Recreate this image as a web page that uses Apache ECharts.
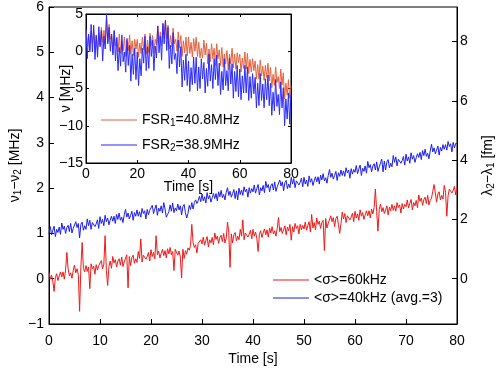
<!DOCTYPE html>
<html>
<head>
<meta charset="utf-8">
<script src="https://cdn.jsdelivr.net/npm/echarts@6/dist/echarts.min.js"></script>
<style>
html, body { margin: 0; padding: 0; background: #fff; }
#chart { width: 500px; height: 370px; }
</style>
</head>
<body>
<div id="chart"></div>
<script>
// main traces sampled every 0.25 s, inset traces every 0.5 s (0..80 s)
var mainStep = 0.25
var insetStep = 0.5
var rightTicks = [0, 2, 4, 6, 8]
var fmPerMHz = 1.528

// nu1 - nu2 [MHz], <sigma>=60kHz  (two rows = 10 s)
var redMain = [
  0.14, -0.01, 0.08, -0.06, -0.28, 0.03, 0.11, -0.04, 0.06, 0.15, 0.04, 0.15, -0.01, 0.19, 0.58, 0.22, 0.06, 0.13, 0.01, 0.18,
  0.30, 0.13, 0.22, 0.09, -0.72, 0.26, 0.8, 0.23, 0.15, 0.29, 0.16, 0.26, -0.22, 0.33, 0.22, 0.28, 0.10, 0.31, 0.19, 0.29,
  0.25, 0.40, 0.22, 0.32, 0.95, 0.18, -0.15, 0.27, 0.39, 0.23, 0.49, 0.35, 0.42, 0.26, 0.39, 0.44, 0.30, 0.48, 0.27, 0.37,
  0.38, 0.53, -0.2, 0.49, 0.29, 0.47, 0.52, 0.34, 0.44, 0.36, 0.60, 0.45, 0.88, 0.37, 0.52, 0.55, 0.43, 0.49, 0.58, 0.39,
  0.64, 0.49, 0.58, 0.44, 0.95, 0.53, 0.61, 0.46, 0.56, 0.65, 0.51, 0.62, 0.46, 0.66, 0.55, 0.69, 0.53, 0.60, 0.18, 0.65,
  0.69, 0.52, 0.61, 0.48, 0.02, 0.65, 0.45, 0.62, 0.54, 0.68, 0.63, 0.73, 1.2, 0.80, 0.69, 0.75, 0.57, 0.78, 0.76, 0.86,
  0.77, 0.92, 0.74, 0.84, 0.93, 0.70, 0.86, 0.79, 0.91, 0.75, 1.01, 0.87, 0.94, 0.78, 0.91, 0.96, 0.82, 1.00, 0.79, 0.89,
  1.25, 1.03, 0.25, 0.99, 0.79, 0.97, 1.02, 0.84, 0.94, 0.86, 1.09, 0.94, 1.3, 0.86, 1.01, 1.04, 0.92, 0.98, 1.07, 0.88,
  1.09, 0.94, 1.03, 0.89, 0.6, 0.98, 1.06, 0.91, 1.01, 1.10, 0.97, 1.08, 0.92, 1.12, 1.01, 1.15, 0.99, 1.06, 0.94, 1.11,
  1.35, 1.04, 1.13, 1.00, 1.08, 1.17, 0.97, 1.14, 1.06, 1.20, 0.85, 1.15, 1.03, 1.22, 1.11, 1.17, 0.99, 1.20, 1.08, 1.18,
  1.10, 1.25, 1.07, 1.17, 1.26, 1.03, 1.42, 1.12, 1.24, 1.08, 1.34, 1.20, 1.27, 1.11, 1.24, 1.29, 0.62, 1.33, 1.12, 1.22,
  1.24, 1.39, 1.26, 1.35, 1.15, 1.33, 1.38, 1.20, 1.0, 1.22, 1.47, 1.32, 1.44, 1.24, 1.39, 1.42, 1.30, 1.36, 1.45, 1.26,
  1.49, 1.34, 1.43, 1.29, 1.52, 1.38, 1.46, 1.31, 1.41, 1.50, 1.39, 1.50, 1.34, 1.54, 1.43, 1.57, 1.98, 1.48, 1.05, 1.53,
  1.65, 1.48, 1.57, 1.44, 1.52, 1.61, 1.41, 1.58, 1.50, 1.64, 1.51, 1.61, 1.49, 1.68, 1.57, 1.63, 1.45, 1.66, 1.54, 1.64,
  1.59, 1.74, 1.56, 1.66, 1.75, 1.52, 1.68, 1.61, 1.73, 1.57, 1.85, 1.71, 1.78, 1.62, 1.75, 1.80, 1.66, 1.84, 1.63, 1.73,
  1.78, 1.93, 2.08, 1.89, 1.69, 1.87, 1.92, 1.74, 1.84, 1.76, 2.06, 1.91, 1.38, 1.83, 1.98, 2.01, 1.89, 1.95, 2.04, 1.85,
  2.0
]
// <sigma>=40kHz (avg.=3)
var blueMain = [
  1.00, 1.15, 0.97, 1.07, 1.16, 0.93, 1.09, 1.02, 1.14, 0.98, 1.23, 1.09, 1.16, 1.00, 1.13, 1.18, 1.04, 1.22, 1.01, 1.11,
  1.11, 1.26, 1.13, 1.22, 0.90, 1.20, 1.25, 1.07, 1.17, 1.09, 1.32, 1.17, 1.29, 1.09, 1.24, 1.27, 1.15, 1.21, 1.30, 1.11,
  1.37, 1.22, 1.31, 1.17, 1.40, 1.26, 1.34, 1.19, 1.29, 1.38, 1.27, 1.38, 1.22, 1.42, 1.31, 1.45, 1.29, 1.36, 1.24, 1.41,
  1.53, 1.36, 1.45, 1.32, 1.40, 1.49, 1.29, 1.46, 1.38, 1.52, 1.38, 1.48, 1.36, 1.55, 1.44, 1.50, 1.32, 1.53, 1.41, 1.51,
  1.47, 1.62, 1.44, 1.54, 1.63, 1.40, 1.56, 1.49, 1.61, 1.45, 1.68, 1.54, 1.36, 1.42, 1.48, 1.63, 1.49, 1.67, 1.46, 1.56,
  1.50, 1.65, 1.52, 1.61, 1.41, 1.59, 1.64, 1.46, 1.34, 1.44, 1.62, 1.53, 1.68, 1.54, 1.68, 1.74, 1.66, 1.72, 1.82, 1.70,
  1.87, 1.72, 1.81, 1.67, 1.90, 1.76, 1.84, 1.69, 1.79, 1.88, 1.77, 1.88, 1.72, 1.92, 1.81, 1.95, 1.79, 1.86, 1.74, 1.91,
  2.01, 1.84, 1.93, 1.80, 1.88, 1.97, 1.77, 1.94, 1.74, 2.00, 1.86, 1.96, 1.84, 2.03, 1.92, 1.98, 1.80, 2.01, 1.89, 1.99,
  1.92, 2.07, 1.89, 1.99, 2.08, 1.85, 2.01, 1.94, 2.06, 1.90, 2.15, 2.01, 2.08, 1.92, 2.05, 2.10, 1.96, 2.14, 1.93, 2.03,
  2.03, 2.18, 2.05, 2.14, 1.94, 2.12, 2.17, 1.99, 2.09, 2.01, 2.24, 2.09, 2.21, 2.01, 2.16, 2.19, 2.07, 2.13, 2.22, 2.03,
  2.24, 2.09, 2.18, 2.04, 2.27, 2.13, 2.21, 2.06, 2.16, 2.25, 2.14, 2.25, 2.09, 2.29, 2.18, 2.32, 2.16, 2.23, 2.11, 2.28,
  2.41, 2.24, 2.33, 2.20, 2.28, 2.37, 2.17, 2.34, 2.26, 2.40, 2.28, 2.38, 2.26, 2.45, 2.34, 2.40, 2.22, 2.43, 2.31, 2.41,
  2.35, 2.50, 2.32, 2.42, 2.51, 2.28, 2.44, 2.37, 2.49, 2.33, 2.59, 2.45, 2.52, 2.36, 2.49, 2.54, 2.40, 2.58, 2.37, 2.47,
  2.49, 2.64, 2.36, 2.60, 2.40, 2.58, 2.63, 2.45, 2.55, 2.47, 2.72, 2.57, 2.69, 2.49, 2.64, 2.67, 2.55, 2.61, 2.70, 2.51,
  2.75, 2.60, 2.69, 2.55, 2.78, 2.64, 2.72, 2.57, 2.67, 2.76, 2.68, 2.79, 2.63, 2.83, 2.72, 2.86, 2.70, 2.77, 2.65, 2.82,
  2.97, 2.80, 2.89, 2.76, 2.84, 2.93, 2.73, 2.90, 2.82, 2.96, 2.86, 2.96, 2.84, 3.03, 2.92, 2.98, 2.80, 3.01, 2.89, 2.99,
  2.98
]
// inset: nu [MHz], FSR1=40.8MHz  (one row = 10 s)
var redInset = [
  2.9, 0.7, 2.2, 0.2, 2.7, 1.0, 2.9, 0.3, 2.2, 0.1, 2.1, 0.8, 3.2, 1.2, 2.8, 0.9, 4.4, 1.2, 3.6, 1.6,
  2.1, -0.2, 2.7, 0.7, 1.9, -0.1, 2.3, -0.3, 1.4, 0.1, 1.9, -0.7, 1.4, 0.1, 2.2, -0.4, 1.4, -0.6, 1.6, 0.3,
  1.6, -0.8, 1.1, -0.3, 1.9, 0.2, 2.3, -0.4, 1.5, -0.2, 2.4, 0.8, 2.1, -0.3, 1.6, 0.9, 3.4, 1.3, 2.6, 0.7,
  3.8, 2.2, 4.1, 1.7, 3.5, 0.3, 2.1, 0.6, 3.1, 1.0, 1.6, 0.0, 2.6, 0.5, 2.1, -0.7, 1.4, -0.2, 1.9, -0.6,
  1.9, -0.3, 1.2, -0.8, 1.7, 0.0, 1.9, -0.7, 1.2, -0.9, 0.4, -0.9, 1.5, -0.5, 1.1, -1.7, 0.3, -1.4, 1.0, -1.0,
  0.4, -1.9, 1.0, -1.0, 0.2, -1.9, 0.5, -2.1, -0.4, -1.7, 0.1, -2.5, -0.4, -1.7, 0.4, -2.2, -0.4, -2.4, -0.2, -1.5,
  -0.4, -2.8, -0.9, -2.3, -0.1, -2.4, -0.3, -3.0, -1.1, -2.8, -1.0, -2.6, -1.3, -3.7, -1.8, -3.7, -1.2, -3.3, -2.0, -3.9,
  -1.9, -3.5, -1.6, -4.0, -2.2, -4.9, -3.1, -4.6, -2.1, -4.2, -3.4, -5.0, -2.4, -4.5, -2.9, -6.4, -4.3, -5.9, -3.8, -6.3,
  -4.6
]
// FSR2=38.9MHz
var blueInset = [
  3.1, -1.0, 2.3, -0.1, 3.6, -0.1, 3.5, -1.1, 2.1, -0.8, 3.3, 0.6, 2.8, -1.3, 2.0, 0.3, 5.0, 1.0, 3.2, 0.0,
  2.3, -0.5, 2.8, -1.3, 1.8, -2.6, 0.5, -2.0, 2.2, -1.4, -0.1, -2.8, 1.7, -1.9, 0.8, -4.0, -0.4, -3.1, 0.4, -3.8,
  -0.1, -4.6, -1.0, -3.3, 0.4, -1.6, 2.0, -2.6, 0.6, -2.3, 2.0, -0.7, 1.5, -2.6, 0.7, -0.9, 3.4, -0.2, 2.0, -1.2,
  3.7, 1.0, 4.2, 0.1, 3.2, -2.3, 0.8, -1.7, 2.5, -1.1, -0.3, -3.0, 1.5, -2.1, 0.6, -4.8, -1.2, -3.9, -0.4, -4.6,
  -1.3, -5.4, -2.2, -4.5, -0.8, -4.3, -0.8, -5.3, -2.1, -5.0, -1.0, -3.7, -1.5, -5.6, -2.3, -4.7, -0.4, -4.0, -1.8, -5.0,
  -1.0, -3.8, -0.5, -4.6, -1.6, -5.8, -2.7, -5.2, -1.0, -4.6, -2.6, -5.3, -0.9, -4.4, -1.7, -6.3, -2.7, -5.4, -1.9, -6.1,
  -2.4, -6.5, -3.3, -5.6, -1.9, -5.6, -2.1, -6.6, -3.4, -6.3, -3.0, -5.7, -3.5, -7.6, -4.3, -7.3, -3.0, -6.6, -4.4, -7.6,
  -3.7, -6.5, -3.2, -7.3, -4.3, -8.6, -5.5, -8.0, -3.8, -7.4, -5.8, -8.5, -4.1, -7.6, -4.9, -10.0, -6.4, -9.1, -5.6, -9.8,
  -5.8
]

var mainNames = ['<σ>=60kHz', '<σ>=40kHz (avg.=3)']
var insetNames = ['FSR1=40.8MHz', 'FSR2=38.9MHz']

var font = '"Liberation Sans", Arial, Helvetica, sans-serif'
var black = '#000'

function pairs(vals, step) {
  return vals.map(function (v, i) { return [i * step, v] })
}
function minus(v) { return String(v).replace('-', '\u2212') }

var rich = {
  a: { fontSize: 14, fontFamily: font, color: black, lineHeight: 16 },
  s: { fontSize: 10, fontFamily: font, color: black, lineHeight: 4, verticalAlign: 'bottom' }
}
var labelStyle = { fontSize: 14, fontFamily: font, color: black }

function line() {
  return { show: true, onZero: false, lineStyle: { color: black, width: 1 } }
}
function tick(len) {
  return { show: true, inside: true, length: len, lineStyle: { color: black, width: 1 } }
}

var chart = echarts.init(document.getElementById('chart'))

chart.setOption({
  animation: false,
  backgroundColor: '#fff',
  grid: [
    { left: 49, top: 7, width: 408, height: 317, show: true, borderColor: black, borderWidth: 1,
      containLabel: false, outerBoundsMode: 'none' },
    { left: 86, top: 14, width: 205, height: 149, show: true, borderColor: black, borderWidth: 1,
      backgroundColor: '#fff', z: 3, containLabel: false, outerBoundsMode: 'none' }
  ],
  xAxis: [
    { gridIndex: 0, type: 'value', min: 0, max: 80, interval: 10,
      axisLine: line(), axisTick: tick(5), splitLine: { show: false },
      axisLabel: Object.assign({ margin: 10 }, labelStyle),
      name: 'Time [s]', nameLocation: 'middle', nameGap: 28, nameMoveOverlap: false,
      nameTextStyle: labelStyle },
    { gridIndex: 1, type: 'value', min: 0, max: 80, interval: 20, z: 4,
      axisLine: line(), axisTick: tick(3), splitLine: { show: false },
      axisLabel: Object.assign({ margin: 4 }, labelStyle),
      name: 'Time [s]', nameLocation: 'middle', nameGap: 17, nameMoveOverlap: false,
      nameTextStyle: labelStyle },
    { gridIndex: 1, type: 'value', position: 'top', min: 0, max: 80, interval: 20, z: 4,
      axisLine: line(), axisTick: tick(3), axisLabel: { show: false }, splitLine: { show: false } }
  ],
  yAxis: [
    { gridIndex: 0, type: 'value', min: -1, max: 6, interval: 1,
      axisLine: line(), axisTick: tick(5), splitLine: { show: false },
      axisLabel: Object.assign({ margin: 5, formatter: minus }, labelStyle),
      name: '{a|ν}{s|1}{a|−ν}{s|2}{a| [MHz]}', nameLocation: 'middle', nameGap: 26,
      nameMoveOverlap: false, nameTextStyle: { rich: rich } },
    { gridIndex: 0, type: 'value', position: 'right', min: -1 * fmPerMHz, max: 6 * fmPerMHz,
      axisLine: line(),
      axisTick: Object.assign(tick(5), { customValues: rightTicks }), splitLine: { show: false },
      axisLabel: Object.assign({ margin: 3, customValues: rightTicks }, labelStyle),
      name: '{a|λ}{s|2}{a|−λ}{s|1}{a| [fm]}', nameLocation: 'middle', nameGap: 23,
      nameMoveOverlap: false, nameTextStyle: { rich: rich } },
    { gridIndex: 1, type: 'value', min: -15, max: 5, interval: 5, z: 4,
      axisLine: line(), axisTick: tick(3), splitLine: { show: false },
      axisLabel: Object.assign({ margin: 3, formatter: minus }, labelStyle),
      name: 'ν [MHz]', nameLocation: 'middle', nameGap: 13, nameMoveOverlap: false,
      nameTextStyle: labelStyle },
    { gridIndex: 1, type: 'value', position: 'right', min: -15, max: 5, interval: 5, z: 4,
      axisLine: line(), axisTick: tick(3),
      axisLabel: { show: false }, splitLine: { show: false } }
  ],
  legend: [
    { data: mainNames, left: 273, top: 273, orient: 'vertical', padding: 0, itemGap: 4,
      icon: 'rect', itemWidth: 36, itemHeight: 1, textStyle: labelStyle },
    { data: insetNames, left: 101, top: 113, orient: 'vertical', padding: 0, itemGap: 10, z: 5,
      icon: 'rect', itemWidth: 36, itemHeight: 1, textStyle: { rich: rich },
      formatter: function (name) {
        return '{a|FSR}{s|' + name.charAt(3) + '}{a|' + name.slice(4) + '}'
      } }
  ],
  series: [
    { name: mainNames[0], type: 'line', xAxisIndex: 0, yAxisIndex: 0, data: pairs(redMain, mainStep),
      symbol: 'none', lineStyle: { color: '#f01818', width: 1 }, itemStyle: { color: '#f01818' } },
    { name: mainNames[1], type: 'line', xAxisIndex: 0, yAxisIndex: 0, data: pairs(blueMain, mainStep),
      symbol: 'none', lineStyle: { color: '#1c1cf0', width: 1 }, itemStyle: { color: '#1c1cf0' } },
    { name: insetNames[0], type: 'line', xAxisIndex: 1, yAxisIndex: 2, data: pairs(redInset, insetStep), z: 4,
      symbol: 'none', lineStyle: { color: '#e8603c', width: 1 }, itemStyle: { color: '#e8603c' } },
    { name: insetNames[1], type: 'line', xAxisIndex: 1, yAxisIndex: 2, data: pairs(blueInset, insetStep), z: 4,
      symbol: 'none', lineStyle: { color: '#2a2aff', width: 1 }, itemStyle: { color: '#2a2aff' } }
  ]
})
</script>
</body>
</html>
